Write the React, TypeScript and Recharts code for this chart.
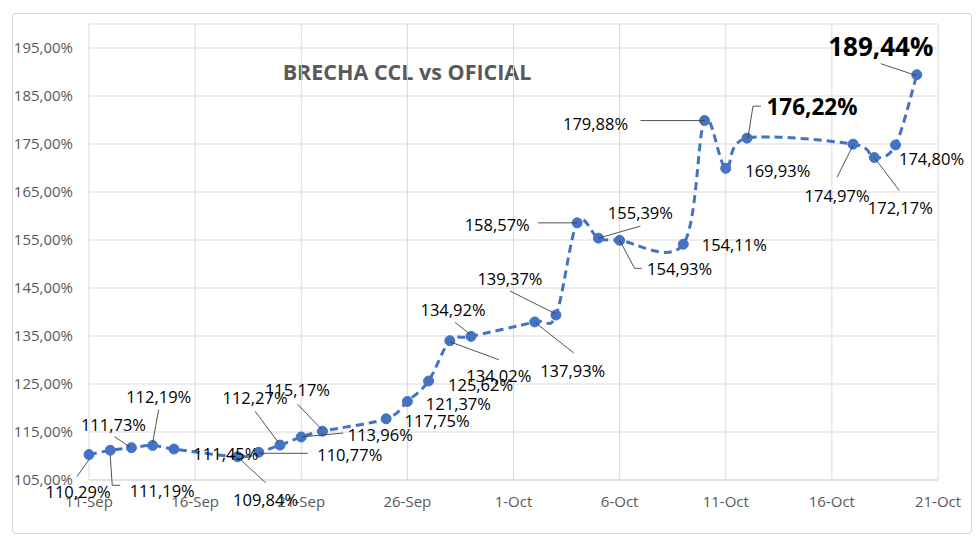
import { CartesianGrid, LabelList, Line, LineChart, XAxis, YAxis } from "recharts";

const dates = [
  "2023-09-11", "2023-09-12", "2023-09-13", "2023-09-14", "2023-09-15",
  "2023-09-18", "2023-09-19", "2023-09-20", "2023-09-21", "2023-09-22",
  "2023-09-25", "2023-09-26", "2023-09-27", "2023-09-28", "2023-09-29",
  "2023-10-02", "2023-10-03", "2023-10-04", "2023-10-05", "2023-10-06",
  "2023-10-09", "2023-10-10", "2023-10-11", "2023-10-12",
  "2023-10-17", "2023-10-18", "2023-10-19", "2023-10-20",
];

const brecha = [
  110.29, 111.19, 111.73, 112.19, 111.45,
  109.84, 110.77, 112.27, 113.96, 115.17,
  117.75, 121.37, 125.62, 134.02, 134.92,
  137.93, 139.37, 158.57, 155.39, 154.93,
  154.11, 179.88, 169.93, 176.22,
  174.97, 172.17, 174.8, 189.44,
];

const xTickLabels = ["11-Sep", "16-Sep", "21-Sep", "26-Sep", "1-Oct", "6-Oct", "11-Oct", "16-Oct", "21-Oct"];
const yTicks = [105, 115, 125, 135, 145, 155, 165, 175, 185, 195];

// label placement relative to each point: text centre offset + optional leader polyline
type Lay = { dx: number; dy: number; lead?: number[][]; size?: number };
const labelLayout: Lay[] = [
  { dx: -11, dy: 37, lead: [[0, 5], [-12, 22]] },
  { dx: 52, dy: 40, lead: [[0, 5], [2, 35], [10, 35]] },
  { dx: -18, dy: -23, lead: [[-17, -11], [-2, -1]] },
  { dx: 6, dy: -49, lead: [[6, -36], [0, -3]] },
  { dx: 52, dy: 4 },
  { dx: 28, dy: 43, lead: [[1, 1], [28, 26]] },
  { dx: 91, dy: 2, lead: [[0, 1], [49, 1]] },
  { dx: -25, dy: -48, lead: [[-25, -34], [-2, -3]] },
  { dx: 79, dy: -2, lead: [[0, 0], [42, -4]] },
  { dx: -25, dy: -42, lead: [[-25, -27], [-1, -2]] },
  { dx: 51, dy: 2 },
  { dx: 51, dy: 2 },
  { dx: 52, dy: 3 },
  { dx: 49, dy: 35, lead: [[0, 1], [49, 19]] },
  { dx: -18, dy: -27, lead: [[-16, -14], [-1, -2]] },
  { dx: 38, dy: 49, lead: [[1, 1], [39, 31]] },
  { dx: -46, dy: -37, lead: [[-46, -24], [0, -1]] },
  { dx: -80, dy: 2, lead: [[-39, 0], [0, 0]] },
  { dx: 42, dy: -26, lead: [[0, 0], [42, -12]] },
  { dx: 60, dy: 28, lead: [[0, 0], [15, 28], [22, 28]] },
  { dx: 51, dy: 0 },
  { dx: -109, dy: 3, lead: [[-64, 0], [0, 0]] },
  { dx: 52, dy: 2 },
  { dx: 65, dy: -32, lead: [[1, 0], [6, -32], [14, -32]], size: 22.5 },
  { dx: -16, dy: 51, lead: [[0, 1], [-16, 33]] },
  { dx: 26, dy: 50, lead: [[0, 0], [25, 33]] },
  { dx: 36, dy: 14 },
  { dx: -36, dy: -29, lead: [[-36, -11], [0, 1]], size: 26 },
];

const DAY = 86400000;
const data = dates.map((d, i) => ({
  day: (Date.parse(d) - Date.parse(dates[0])) / DAY,
  value: brecha[i],
}));

const pct = (v: number) => v.toFixed(2).replace(".", ",") + "%";
const FONT = "'Open Sans', sans-serif";

// Excel-like smoothed line (Catmull-Rom style bezier)
function excelCurve(context: any) {
  let pts: number[][] = [];
  return {
    areaStart() {},
    areaEnd() {},
    lineStart() {
      pts = [];
    },
    point(x: number, y: number) {
      pts.push([+x, +y]);
    },
    lineEnd() {
      const n = pts.length;
      if (!n) return;
      context.moveTo(pts[0][0], pts[0][1]);
      for (let i = 0; i < n - 1; i++) {
        const p0 = pts[Math.max(0, i - 1)];
        const p1 = pts[i];
        const p2 = pts[i + 1];
        const p3 = pts[Math.min(n - 1, i + 2)];
        context.bezierCurveTo(
          p1[0] + (p2[0] - p0[0]) / 6,
          p1[1] + (p2[1] - p0[1]) / 6,
          p2[0] - (p3[0] - p1[0]) / 6,
          p2[1] - (p3[1] - p1[1]) / 6,
          p2[0],
          p2[1]
        );
      }
    },
  };
}

const renderLabel = (props: any) => {
  const { x, y, index, value } = props;
  const lay = labelLayout[index];
  if (!lay) return null;
  const bold = !!lay.size;
  return (
    <g key={`lbl-${index}`}>
      {lay.lead && (
        <polyline
          points={lay.lead.map(([a, b]) => `${x + a},${y + b}`).join(" ")}
          fill="none"
          stroke="#404040"
          strokeWidth={0.9}
        />
      )}
      <text
        x={x + lay.dx}
        y={y + lay.dy}
        textAnchor="middle"
        dominantBaseline="central"
        fontFamily={FONT}
        fontSize={lay.size ?? 16.5}
        fontWeight={bold ? 700 : 400}
        fill="#000"
      >
        {pct(value)}
      </text>
    </g>
  );
};

export default function App() {
  return (
    <div style={{ position: "absolute", left: 0, top: 0, width: 980, height: 544, background: "#fff" }}>
      <div
        style={{
          position: "absolute",
          left: 12,
          top: 13,
          width: 958,
          height: 519,
          border: "1px solid #d9d9d9",
          borderRadius: 3,
        }}
      />
      <div
        style={{
          position: "absolute",
          left: 207,
          top: 58,
          width: 400,
          textAlign: "center",
          fontFamily: FONT,
          fontWeight: 700,
          fontSize: 21.5,
          color: "#595959",
          lineHeight: "28px",
        }}
      >
        BRECHA CCL vs OFICIAL
      </div>
      <LineChart
        width={980}
        height={544}
        data={data}
        margin={{ top: 24, right: 42, bottom: 34, left: 9 }}
        style={{ position: "absolute", left: 0, top: 0 }}
      >
        <CartesianGrid stroke="#d9d9d9" />
        <XAxis
          dataKey="day"
          type="number"
          domain={[0, 40]}
          ticks={xTickLabels.map((_, i) => i * 5)}
          tickFormatter={(v: number) => xTickLabels[v / 5]}
          axisLine={{ stroke: "#d9d9d9" }}
          tickLine={false}
          tickMargin={10}
          height={30}
          tick={{ fill: "#595959", fontSize: 15, fontFamily: FONT }}
        />
        <YAxis
          type="number"
          domain={[105, 200]}
          ticks={yTicks}
          tickFormatter={pct}
          axisLine={false}
          tickLine={false}
          tickMargin={10}
          width={80}
          tick={{ fill: "#595959", fontSize: 15, fontFamily: FONT }}
        />
        <Line
          dataKey="value"
          type={excelCurve as any}
          stroke="#4472C4"
          strokeWidth={3}
          strokeDasharray="8 5"
          dot={{ r: 5, fill: "#4472C4", stroke: "#4472C4", strokeWidth: 1, strokeDasharray: "" }}
          activeDot={false}
          isAnimationActive={false}
        >
          <LabelList dataKey="value" content={renderLabel} />
        </Line>
      </LineChart>
    </div>
  );
}
